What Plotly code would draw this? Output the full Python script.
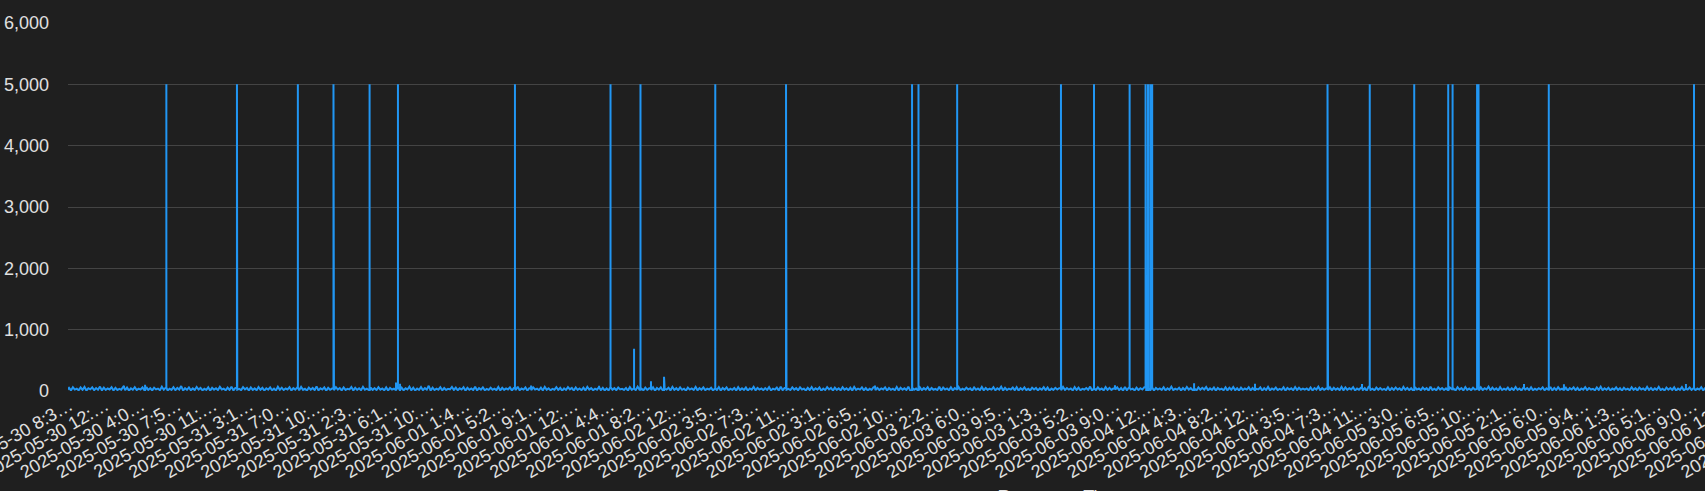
import pandas as pd
import plotly.graph_objects as go

# ---------------- data ----------------
# baseline response times (ms), one sample every 12 minutes from 2025-05-30 08:24
r01 = [14, 52, 9, 61, 23, 38, 11, 57, 19, 66, 7, 45, 27, 59, 13, 48, 21, 72, 10, 54]
r02 = [18, 41, 25, 63, 8, 50, 16, 35, 22, 68, 12, 56, 6, 44, 20, 61, 15, 39, 24, 58]
r03 = [11, 64, 17, 47, 9, 53, 26, 40, 13, 70, 21, 55, 8, 37, 18, 62, 14, 49, 23, 81]
r04 = [7, 46, 20, 58, 12, 42, 16, 65, 24, 51, 10, 36, 19, 60, 6, 53, 22, 44, 15, 67]
r05 = [25, 39, 11, 56, 18, 71, 9, 48, 21, 34, 14, 62, 27, 50, 8, 57, 17, 43, 12, 64]
r06 = [20, 52, 7, 45, 23, 60, 13, 38, 10, 69, 19, 54, 16, 41, 25, 63, 9, 47, 22, 58]
r07 = [12, 66, 18, 36, 8, 55, 21, 49, 15, 73, 11, 43, 24, 59, 6, 51, 20, 40, 14, 62]
r08 = [23, 48, 10, 57, 17, 35, 26, 64, 9, 52, 19, 45, 13, 68, 21, 38, 7, 56, 16, 47]
r09 = [15, 61, 22, 42, 11, 58, 8, 50, 24, 37, 14, 65, 18, 53, 10, 44, 25, 70, 12, 55]
r10 = [9, 40, 19, 63, 13, 47, 23, 85, 7, 54, 16, 39, 21, 60, 11, 49, 18, 36, 26, 67]
r11 = [17, 56, 12, 44, 24, 62, 6, 51, 20, 41, 15, 69, 9, 46, 22, 58, 13, 35, 19, 53]
r12 = [21, 37, 14, 65, 10, 52, 18, 43, 25, 59, 8, 48, 16, 71, 12, 40, 23, 57, 7, 46]
r13 = [13, 60, 24, 39, 16, 55, 9, 68, 20, 45, 11, 36, 22, 62, 17, 50, 6, 44, 18, 63]
r14 = [26, 49, 8, 58, 19, 41, 14, 54, 10, 66, 23, 47, 12, 38, 21, 61, 15, 52, 9, 42]
r15 = [10, 64, 20, 46, 13, 57, 25, 35, 17, 50, 7, 63, 19, 44, 14, 70, 22, 39, 11, 56]
r16 = [19, 43, 15, 61, 6, 48, 22, 59, 12, 40, 24, 53, 9, 67, 18, 45, 13, 58, 20, 37]
r17 = [8, 55, 23, 41, 17, 66, 11, 47, 21, 60, 14, 38, 25, 52, 10, 44, 16, 64, 7, 49]
r18 = [22, 59, 12, 36, 20, 50, 9, 62, 15, 45, 18, 57, 7, 42, 23, 68, 11, 51, 24, 40]
r19 = [14, 47, 18, 63, 10, 39, 24, 55, 8, 70, 13, 48, 20, 35, 16, 60, 22, 46, 12, 58]
r20 = [24, 38, 9, 52, 16, 64, 13, 44, 22, 57, 6, 41, 17, 62, 25, 49, 8, 55, 19, 43]
r21 = [11, 61, 21, 45, 14, 53, 7, 67, 18, 40, 23, 58, 12, 47, 9, 36, 20, 63, 15, 50]
r22 = [16, 42, 25, 60, 8, 48, 19, 37, 13, 65, 10, 54, 22, 43, 17, 71, 6, 52, 21, 39]
r23 = [7, 57, 15, 46, 23, 62, 11, 50, 20, 35, 16, 68, 9, 56, 24, 41, 14, 60, 10, 48]
r24 = [20, 64, 13, 38, 18, 54, 25, 45, 7, 59, 21, 42, 14, 66, 11, 50, 19, 37, 23, 61]
r25 = [12, 44, 22, 69, 9, 51, 16, 40, 24, 56, 13, 63, 8, 47, 20, 58, 15, 35, 10, 53]
r26 = [25, 50, 10, 43, 21, 61, 14, 57, 6, 39, 18, 52, 23, 45, 12, 67, 17, 48, 22, 41]
r27 = [9, 62, 17, 55, 12, 36, 24, 48, 19, 72, 8, 44, 15, 59, 21, 40, 11, 63, 18, 51]
r28 = [18, 39, 23, 60, 15, 47, 7, 65, 13, 53, 25, 38, 10, 56, 16, 46, 24, 61, 6, 43]
r29 = [15, 58, 8, 49, 24, 41, 18, 62, 11, 45, 20, 69, 14, 37, 22, 54, 9, 48, 17, 66]
r30 = [22, 46, 16, 37, 10, 59, 21, 51, 25, 64, 12, 42, 19, 57, 7, 50, 23, 39, 13, 60]
r31 = [10, 53, 20, 65, 14, 44, 9, 56, 17, 40, 23, 61, 11, 48, 18, 35, 25, 58, 8, 47]
r32 = [17, 67, 11, 42, 22, 55, 15, 36, 20, 62, 7, 50, 24, 44, 13, 64, 16, 53, 21, 38]
r33 = [24, 41, 13, 57, 8, 48, 23, 70, 12, 46, 19, 39, 16, 60, 10, 52, 22, 43, 14, 65]
r34 = [11, 59, 19, 44, 25, 63, 9, 40, 21, 54, 14, 47, 6, 68, 18, 37, 12, 56, 20, 49]
r35 = [20, 36, 14, 61, 11, 50, 17, 58, 23, 43, 10, 66, 21, 51, 15, 45, 8, 62, 24, 40]
r36 = [13, 55, 22, 47, 7, 69, 16, 38, 12, 60, 24, 49, 17, 42, 9, 57, 20, 35, 11, 63]
r37 = [23, 48, 10, 64, 18, 41, 13, 52, 22, 37, 8, 59, 15, 46, 25, 71, 12, 54, 19, 44]
r38 = [8, 62, 17, 39, 21, 56, 11, 47, 15, 65, 20, 40, 9, 53, 23, 48, 16, 60, 13, 36]
r39 = [19, 45, 24, 58, 12, 43, 20, 67, 10, 50, 16, 61, 22, 38, 14, 55, 7, 46, 25, 59]
r40 = [14, 52, 9, 41, 22, 63, 15, 49, 24, 36, 11, 57, 18, 70, 13, 44, 21, 53, 10, 40]
r41 = [21, 60, 16, 47, 8, 54, 23, 39, 13, 62, 19, 45, 10, 56, 25, 42, 14, 66, 17, 50]
r42 = [12, 43, 20, 68, 15, 38, 9, 55, 22, 48, 17, 59, 7, 41, 19, 64, 11, 37, 24, 57]
r43 = [18, 51, 13, 40, 24, 61, 10, 46, 16, 65, 21, 35, 14, 53, 8, 58, 23, 44, 12, 62]
baseline_start = "2025-05-30 08:24"
baseline_step = "12min"

# individual slow requests / timeouts
spike_times = [
    "2025-05-30 14:17", "2025-05-30 16:28", "2025-05-30 18:40",
    "2025-05-31 01:58", "2025-05-31 08:16", "2025-05-31 11:57", "2025-05-31 15:41",
    "2025-05-31 18:25", "2025-05-31 18:37", "2025-05-31 18:50",
    "2025-06-01 06:43", "2025-06-01 08:23", "2025-06-01 15:25", "2025-06-01 16:36",
    "2025-06-01 19:02", "2025-06-01 19:42", "2025-06-01 20:47", "2025-06-01 22:08",
    "2025-06-02 03:26", "2025-06-02 10:45", "2025-06-02 19:57", "2025-06-02 23:47",
    "2025-06-03 00:27", "2025-06-03 04:27", "2025-06-03 15:11", "2025-06-03 18:36",
    "2025-06-03 20:46", "2025-06-03 22:17", "2025-06-03 23:56",
    "2025-06-04 00:11", "2025-06-04 00:25", "2025-06-04 00:37", "2025-06-04 04:57",
    "2025-06-04 11:15", "2025-06-04 18:45", "2025-06-04 22:19", "2025-06-04 23:07",
    "2025-06-05 03:43", "2025-06-05 07:14", "2025-06-05 07:41", "2025-06-05 10:13",
    "2025-06-05 10:22", "2025-06-05 15:04", "2025-06-05 17:38", "2025-06-05 19:12",
    "2025-06-06 07:49", "2025-06-06 08:39",
]
spike_values = [
    85, 100, 5000,
    5000, 5000, 5000, 5000,
    140, 5000, 120,
    5000, 90, 85, 5000,
    690, 5000, 160, 232,
    5000, 5000, 90, 5000,
    5000, 5000, 5000, 5000,
    94, 5000, 5000,
    5000, 5000, 5000, 125,
    120, 5000, 115, 5000,
    5000, 5000, 5000, 5000,
    5000, 115, 5000, 110,
    115, 5000,
]

tick_text = [
    "2025-05-30 8:3…", "2025-05-30 12:…", "2025-05-30 4:0…", "2025-05-30 7:5…",
    "2025-05-30 11:…", "2025-05-31 3:1…", "2025-05-31 7:0…", "2025-05-31 10:…",
    "2025-05-31 2:3…", "2025-05-31 6:1…", "2025-05-31 10:…", "2025-06-01 1:4…",
    "2025-06-01 5:2…", "2025-06-01 9:1…", "2025-06-01 12:…", "2025-06-01 4:4…",
    "2025-06-01 8:2…", "2025-06-02 12:…", "2025-06-02 3:5…", "2025-06-02 7:3…",
    "2025-06-02 11:…", "2025-06-02 3:1…", "2025-06-02 6:5…", "2025-06-02 10:…",
    "2025-06-03 2:2…", "2025-06-03 6:0…", "2025-06-03 9:5…", "2025-06-03 1:3…",
    "2025-06-03 5:2…", "2025-06-03 9:0…", "2025-06-04 12:…", "2025-06-04 4:3…",
    "2025-06-04 8:2…", "2025-06-04 12:…", "2025-06-04 3:5…", "2025-06-04 7:3…",
    "2025-06-04 11:…", "2025-06-05 3:0…", "2025-06-05 6:5…", "2025-06-05 10:…",
    "2025-06-05 2:1…", "2025-06-05 6:0…", "2025-06-05 9:4…", "2025-06-06 1:3…",
    "2025-06-06 5:1…", "2025-06-06 9:0…", "2025-06-06 12:…", "2025-06-06 4:3…",
    "2025-06-06 8:2…", "2025-06-07 12:…", "2025-06-07 3:5…", "2025-06-07 7:3…",
    "2025-06-07 11:…", "2025-06-07 3:0…", "2025-06-07 6:4…",
]
first_tick = "2025-05-30 08:39"
tick_step_min = 224

# ---------------- build series ----------------
rows = [r01, r02, r03, r04, r05, r06, r07, r08, r09, r10, r11, r12, r13, r14, r15,
        r16, r17, r18, r19, r20, r21, r22, r23, r24, r25, r26, r27, r28, r29, r30,
        r31, r32, r33, r34, r35, r36, r37, r38, r39, r40, r41, r42, r43]
base_vals = [v for row in rows for v in row]
base_t = pd.date_range(baseline_start, periods=len(base_vals), freq=baseline_step)
events = sorted(zip(pd.to_datetime(spike_times), spike_values))

xs, ys = [], []
j = 0
prev = base_vals[0]
for t, v in zip(base_t, base_vals):
    while j < len(events) and events[j][0] < t:
        ts, pv = events[j]
        xs += [ts, ts, ts]
        ys += [prev, pv, prev]
        j += 1
    xs.append(t)
    ys.append(v)
    prev = v

t0 = pd.Timestamp(first_tick)
tick_vals = [t0 + pd.Timedelta(minutes=tick_step_min * i) for i in range(len(tick_text))]

# layout geometry
px_per_min = 36.1 / tick_step_min
plot_w = 1984
x_start = t0 - pd.Timedelta(minutes=1.5 / px_per_min)
x_end = x_start + pd.Timedelta(minutes=plot_w / px_per_min)

BG = "#1f1f1f"
TXT = "#e0e0e0"
FONT = "Liberation Sans, Arial, sans-serif"
H = 560

fig = go.Figure(
    go.Scatter(
        x=xs, y=ys, mode="lines",
        line=dict(color="#2196f3", width=2),
        name="Response Time",
    )
)

fig.update_layout(
    width=68 + plot_w + 40,
    height=H,
    margin=dict(l=68, r=40, t=23, b=H - 391, autoexpand=False),
    paper_bgcolor=BG,
    plot_bgcolor=BG,
    font=dict(family=FONT, color=TXT, size=18),
    showlegend=False,
    xaxis=dict(
        type="date",
        range=[x_start, x_end],
        tickmode="array",
        tickvals=tick_vals,
        ticktext=tick_text,
        tickangle=-30,
        tickfont=dict(size=18, color=TXT),
        ticklabeloverflow="allow",
        showgrid=False,
        zeroline=False,
        showline=False,
        ticks="",
        automargin=False,
        title=dict(text="Response Time", font=dict(size=18, color=TXT), standoff=9),
    ),
    yaxis=dict(
        range=[0, 6000],
        dtick=1000,
        tickformat=",",
        gridcolor="#444444",
        gridwidth=1,
        zeroline=False,
        showline=False,
        ticks="",
        tickfont=dict(size=18, color=TXT),
        ticklabelstandoff=18,
        automargin=False,
    ),
)

fig.write_html(
    "out.html",
    post_script="document.body.style.margin='0';document.body.style.background='%s';" % BG,
)
